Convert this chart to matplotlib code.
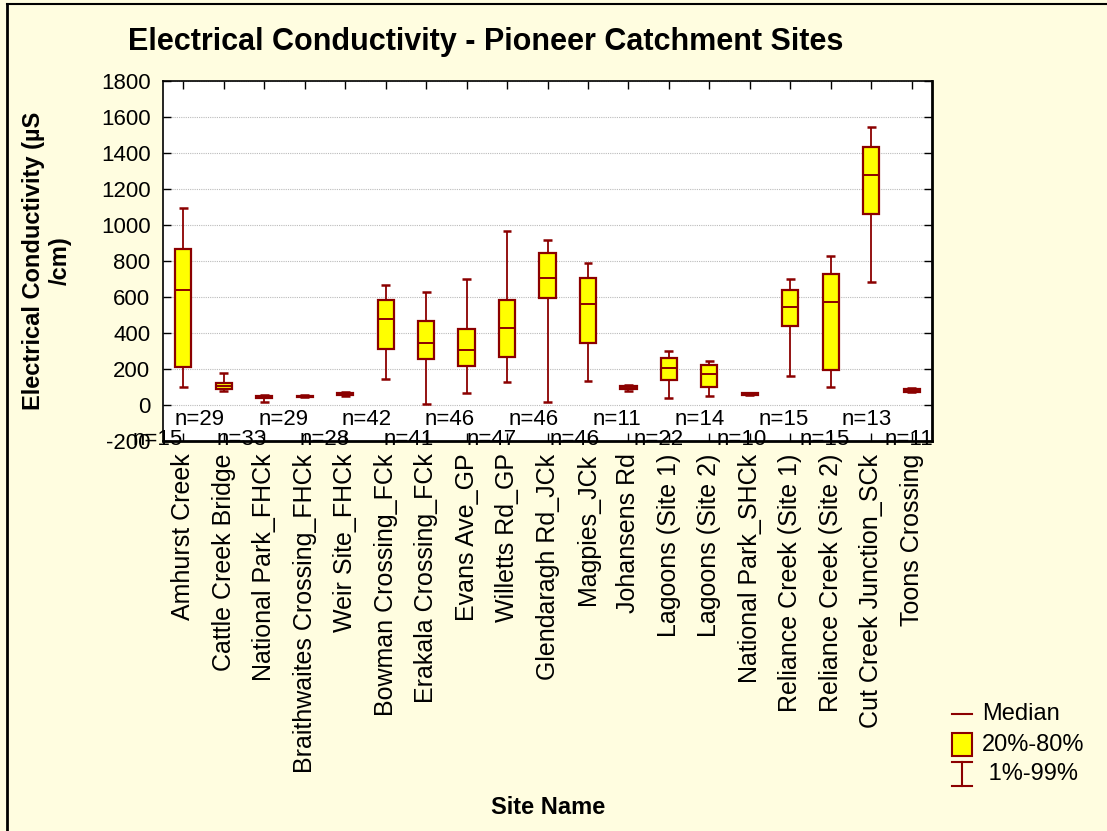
import matplotlib
matplotlib.use('Agg')
import matplotlib.pyplot as plt
from matplotlib.patches import Rectangle
import numpy as np

plt.rcParams['font.family'] = ['Liberation Sans', 'DejaVu Sans']
plt.rcParams['axes.unicode_minus'] = False

# ---------------- data ----------------
sites = ['Amhurst Creek', 'Cattle Creek Bridge', 'National Park_FHCk',
         'Braithwaites Crossing_FHCk', 'Weir Site_FHCk', 'Bowman Crossing_FCk',
         'Erakala Crossing_FCk', 'Evans Ave_GP', 'Willetts Rd_GP',
         'Glendaragh Rd_JCk', 'Magpies_JCk', 'Johansens Rd', 'Lagoons (Site 1)',
         'Lagoons (Site 2)', 'National Park_SHCk', 'Reliance Creek (Site 1)',
         'Reliance Creek (Site 2)', 'Cut Creek Junction_SCk', 'Toons Crossing']
p01 = [98, 76, 18, 42, 48, 142, 4, 66, 126, 18, 132, 78, 39, 52, 55, 163, 98, 685, 70]
p20 = [212, 88, 40, 44, 53, 310, 257, 214, 268, 594, 345, 88, 141, 98, 57, 441, 194, 1063, 75]
p50 = [640, 108, 46, 47, 58, 480, 344, 308, 430, 704, 560, 98, 204, 170, 60, 546, 574, 1280, 82]
p80 = [865, 120, 52, 52, 65, 585, 467, 420, 583, 843, 707, 108, 261, 222, 64, 637, 728, 1433, 90]
p99 = [1095, 178, 56, 55, 70, 667, 626, 698, 965, 917, 787, 112, 302, 246, 66, 698, 830, 1546, 94]
n_obs = [15, 29, 33, 29, 28, 42, 41, 46, 47, 46, 46, 11, 22, 14, 10, 15, 15, 13, 11]
y_ticks = [-200, 0, 200, 400, 600, 800, 1000, 1200, 1400, 1600, 1800]

title = 'Electrical Conductivity - Pioneer Catchment Sites'
ylabel = 'Electrical Conductivity (µS\n/cm)'
xlabel = 'Site Name'
legend_labels = ['Median', '20%-80%', ' 1%-99%']

# ---------------- style ----------------
W, H = 1107, 831
BG = '#FFFDE0'
EDGE = '#8B0000'
FILL = '#FFFF00'

fig = plt.figure(figsize=(W / 100, H / 100), dpi=100, facecolor=BG)
ax = fig.add_axes([163 / W, 1 - 441 / H, 769 / W, 360 / H])
ax.set_facecolor('white')

pos = np.arange(1, len(sites) + 1)
bw, cw = 0.40, 0.22
for x, lo, q1, med, q3, hi in zip(pos, p01, p20, p50, p80, p99):
    ax.vlines(x, lo, q1, color=EDGE, lw=1.3, zorder=3)
    ax.vlines(x, q3, hi, color=EDGE, lw=1.3, zorder=3)
    ax.hlines([lo, hi], x - cw / 2, x + cw / 2, color=EDGE, lw=1.8, zorder=3)
    ax.add_patch(Rectangle((x - bw / 2, q1), bw, q3 - q1, facecolor=FILL,
                           edgecolor=EDGE, lw=1.6, zorder=4))
    ax.hlines(med, x - bw / 2, x + bw / 2, color=EDGE, lw=1.4, zorder=5)

for i, (x, n) in enumerate(zip(pos, n_obs)):
    yv = -194 if i % 2 == 0 else -83
    ax.text(x + 0.03 * i, yv, f'n={n}', ha='right', va='center',
            fontsize=16, clip_on=False, zorder=6)

ax.set_xlim(0.5, 19.5)
ax.set_ylim(-200, 1800)
ax.set_yticks(y_ticks)
ax.set_xticks(pos)
ax.set_xticklabels(sites, rotation=90, fontsize=18)
ax.tick_params(axis='y', labelsize=16)
ax.tick_params(direction='in', top=True, right=True, length=6, width=1, pad=9)
ax.yaxis.grid(True, linestyle=(0, (1, 1)), color='#BBBBBB', lw=0.8)
ax.set_axisbelow(True)
for s in ['left', 'top']:
    ax.spines[s].set_linewidth(1.2)
for s in ['right', 'bottom']:
    ax.spines[s].set_linewidth(2)

fig.text(486 / W, 1 - 50 / H, title, ha='center', va='baseline',
         fontsize=22, fontweight='bold')
fig.text(47 / W, 1 - 261 / H, ylabel, ha='center', va='center', rotation=90,
         multialignment='center', fontsize=17, fontweight='bold')
fig.text(548 / W, 1 - 808 / H, xlabel, ha='center', va='center',
         fontsize=17, fontweight='bold')

# overlay for legend and frame (pixel coordinates)
ov = fig.add_axes([0, 0, 1, 1], facecolor='none')
ov.set_xlim(0, W)
ov.set_ylim(H, 0)
ov.axis('off')
ov.plot([952, 972], [714, 714], color=EDGE, lw=1.5)
ov.add_patch(Rectangle((952, 733), 20, 23, facecolor=FILL, edgecolor=EDGE, lw=1.5))
ov.plot([962, 962], [762, 786], color=EDGE, lw=1.5)
ov.plot([952, 972], [762, 762], color=EDGE, lw=1.5)
ov.plot([952, 972], [786, 786], color=EDGE, lw=1.5)
for yy, lab in zip([714, 745, 774], legend_labels):
    ov.text(982, yy, lab, ha='left', va='center', fontsize=17)
ov.plot([7, 7], [4, H], color='black', lw=2)
ov.plot([7, W], [4, 4], color='black', lw=1.5)

fig.savefig('out.png', dpi=100, facecolor=BG)
